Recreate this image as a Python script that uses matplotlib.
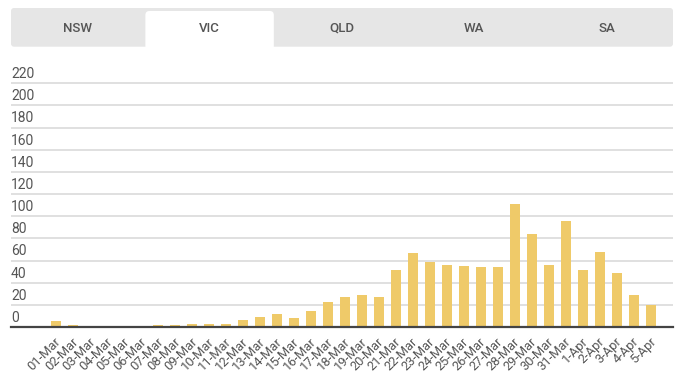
import matplotlib.pyplot as plt
from matplotlib.patches import FancyBboxPatch
from matplotlib.transforms import ScaledTranslation
import numpy as np

plt.rcParams['font.family'] = ['Roboto', 'DejaVu Sans']

tabs = ["NSW", "VIC", "QLD", "WA", "SA"]
active_tab = "VIC"

days = ["01-Mar", "02-Mar", "03-Mar", "04-Mar", "05-Mar", "06-Mar", "07-Mar",
        "08-Mar", "09-Mar", "10-Mar", "11-Mar", "12-Mar", "13-Mar", "14-Mar",
        "15-Mar", "16-Mar", "17-Mar", "18-Mar", "19-Mar", "20-Mar", "21-Mar",
        "22-Mar", "23-Mar", "24-Mar", "25-Mar", "26-Mar", "27-Mar", "28-Mar",
        "29-Mar", "30-Mar", "31-Mar", "1-Apr", "2-Apr", "3-Apr", "4-Apr", "5-Apr"]
new_cases = [5, 2, 0, 0, 0, 0, 2, 2, 3, 3, 3, 6, 9, 12, 8, 14, 23, 27, 29, 27,
             51, 67, 59, 56, 55, 54, 54, 111, 84, 56, 96, 51, 68, 49, 29, 20]
y_ticks = [0, 20, 40, 60, 80, 100, 120, 140, 160, 180, 200, 220]

TEXT = "#555555"
BAR = "#EFCA69"

W, H = 680, 383
fig = plt.figure(figsize=(W / 100, H / 100), dpi=100)

# tab strip (pixel coords from top-left, drawn in inches)
def px(x, y):
    return x / 100, (H - y) / 100

x0, x1, ytop, ybot = 11, 673, 8, 46.7
bx, by = px(x0, ybot)
band = FancyBboxPatch((bx, by), (x1 - x0) / 100, (ybot - ytop) / 100,
                      boxstyle="round,pad=0,rounding_size=0.03",
                      transform=fig.dpi_scale_trans, facecolor="#E6E6E6",
                      edgecolor="none")
fig.patches.append(band)
tab_w = (x1 - x0) / len(tabs)
for i, name in enumerate(tabs):
    left = x0 + i * tab_w
    if name == active_tab:
        tx, ty = px(left + 2, 52)
        tab = FancyBboxPatch((tx, ty), (tab_w - 4) / 100, (52 - 11) / 100,
                             boxstyle="round,pad=0,rounding_size=0.04",
                             transform=fig.dpi_scale_trans, facecolor="white",
                             edgecolor="none")
        fig.patches.append(tab)
    cx, cy = px(left + tab_w / 2, 28.5)
    fig.text(cx, cy, name, transform=fig.dpi_scale_trans, ha="center",
             va="center", fontsize=9.5, color=TEXT, fontweight="medium")

ax = fig.add_axes([11 / W, 56 / H, (673 - 11) / W, 266 / H])
x = np.arange(len(days))
ax.bar(x, new_cases, width=0.59, color=BAR, zorder=3)
ax.set_xlim(-2.65, len(days) + 0.3)
ax.set_ylim(0, 240)

for v in y_ticks[1:]:
    ax.axhline(v, color="#DDDDDD", lw=1.3, zorder=1)
for v in y_ticks:
    ax.annotate(str(v), xy=(0, v), xycoords=("axes fraction", "data"),
                xytext=(0, 1.5), textcoords="offset points", ha="left",
                va="bottom", fontsize=10, color=TEXT)

ax.set_yticks([])
ax.set_xticks(x)
ax.set_xticklabels(days, rotation=45, ha="right", va="center",
                   rotation_mode="anchor", fontsize=9.3, color=TEXT)
ax.tick_params(axis="x", length=0, pad=9)
shift = ScaledTranslation(3 / 100, 0, fig.dpi_scale_trans)
for lbl in ax.get_xticklabels():
    lbl.set_transform(lbl.get_transform() + shift)

for s in ["top", "left", "right"]:
    ax.spines[s].set_visible(False)
ax.spines["bottom"].set_color("#444444")
ax.spines["bottom"].set_linewidth(1.6)
ax.spines["bottom"].set_zorder(4)

fig.savefig("out.png", dpi=100)
